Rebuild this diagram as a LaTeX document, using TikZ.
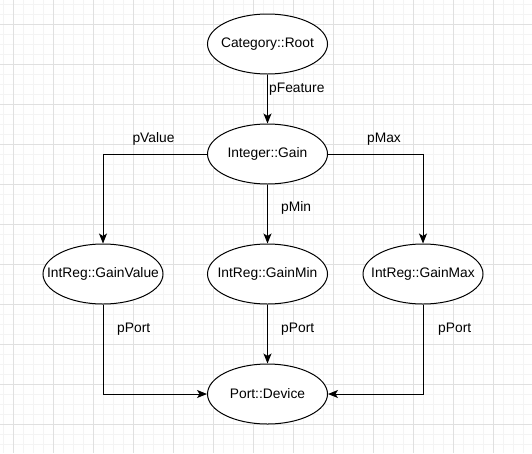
\documentclass[tikz,border=0pt]{standalone}
\usepackage{fontspec}
\setmainfont{Liberation Sans}
\usetikzlibrary{arrows.meta,shapes.geometric}
\definecolor{gridminor}{HTML}{F4F4F4}
\definecolor{gridmajor}{HTML}{E0E0E0}
\newcommand{\entlabel}[1]{\makebox[0pt][c]{#1}}
\begin{document}
\begin{tikzpicture}[x=1pt,y=-1pt,
  ent/.style={draw=black, line width=1pt, ellipse, minimum width=120pt, minimum height=60pt, inner sep=0pt, fill=white, font=\fontsize{13.8}{16}\selectfont},
  lbl/.style={font=\fontsize{13.8}{16}\selectfont, inner sep=0pt},
  conn/.style={draw=black, line width=1pt, -{Stealth[length=10pt,width=8pt,inset=2.5pt]}}
]
\useasboundingbox (0,0) rectangle (532,453);
\fill[white] (0,0) rectangle (532,453);
\foreach \x in {3,13,...,532} \draw[gridminor, line width=1pt] (\x,0) -- (\x,453);
\foreach \y in {4,14,...,453} \draw[gridminor, line width=1pt] (0,\y) -- (532,\y);
\foreach \x in {13,53,...,532} \draw[gridmajor, line width=1pt] (\x,0) -- (\x,453);
\foreach \y in {24,64,...,453} \draw[gridmajor, line width=1pt] (0,\y) -- (532,\y);

\node[ent] (root) at (267.5,44) {\entlabel{Category::Root}};
\node[ent] (gain) at (267.5,154) {\entlabel{Integer::Gain}};
\node[ent] (gv) at (103,274) {\entlabel{IntReg::GainValue}};
\node[ent] (gmin) at (267.5,274) {\entlabel{IntReg::GainMin}};
\node[ent] (gmax) at (423,274) {\entlabel{IntReg::GainMax}};
\node[ent] (dev) at (267.5,394) {\entlabel{Port::Device}};

\draw[conn] (root) -- (gain);
\draw[conn] (gain.west) -| (gv.north);
\draw[conn] (gain) -- (gmin);
\draw[conn] (gain.east) -| (gmax.north);
\draw[conn] (gv.south) |- (dev.west);
\draw[conn] (gmin) -- (dev);
\draw[conn] (gmax.south) |- (dev.east);

\node[lbl, anchor=west] (lfeat) at (269,89) {pFeature};
\node[lbl] (lval) at (153.5,139) {pValue};
\node[lbl, anchor=west] (lmin) at (281,208) {pMin};
\node[lbl] (lmax) at (384,139) {pMax};
\node[lbl, anchor=west] (lp1) at (117,329) {pPort};
\node[lbl, anchor=west] (lp2) at (281,329) {pPort};
\node[lbl, anchor=west] (lp3) at (438,329) {pPort};
\end{tikzpicture}
\end{document}
